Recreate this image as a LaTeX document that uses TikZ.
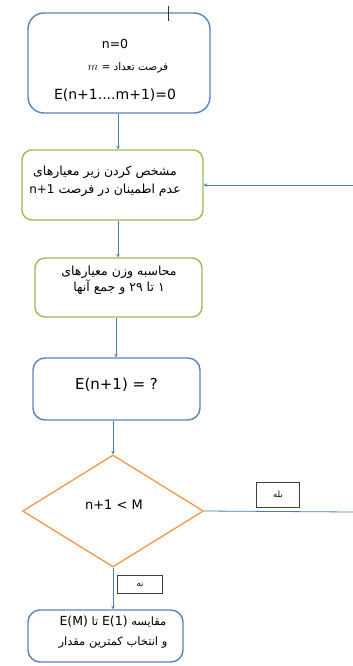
\documentclass[tikz,border=0pt]{standalone}
\usepackage{fontspec}
\setmainfont{DejaVu Sans}
\newfontfamily\fa[Script=Arabic]{DejaVu Sans}
\TeXXeTstate=1
\usetikzlibrary{shapes.geometric,arrows.meta}

\definecolor{bluebox}{HTML}{5A84BE}
\definecolor{greenbox}{HTML}{9BBB59}
\definecolor{orangebox}{HTML}{F79646}
\definecolor{linkblue}{HTML}{4A7EBB}

\tikzset{
  procblue/.style={draw=bluebox, line width=1.4pt, rounded corners=16pt, fill=white},
  procgreen/.style={draw=greenbox, line width=1.4pt, rounded corners=10pt, fill=white},
  decision/.style={draw=orangebox, line width=1.3pt, diamond, fill=white, inner sep=0pt},
  tag/.style={draw=black!75, line width=0.7pt, fill=white, inner sep=0pt},
  txt/.style={inner sep=0pt, align=center},
  conn/.style={draw=linkblue, line width=0.8pt},
  arr/.style={conn, -{Stealth[length=3.5pt,width=3.5pt]}},
}
\newcommand{\fasize}[2]{\fa\fontsize{#1}{#2}\selectfont}
\newcommand{\lasize}[1]{\fontsize{#1}{#1}\selectfont}

\begin{document}
\begin{tikzpicture}[x=1pt,y=-1pt]
  \useasboundingbox (0,0) rectangle (353,666);

  % process boxes
  \node[procblue, minimum width=182pt, minimum height=100pt] (start) at (119,63) {};
  \node[procgreen, minimum width=181pt, minimum height=70pt] (sub) at (112.5,185) {};
  \node[procgreen, minimum width=167pt, minimum height=59pt] (weigh) at (118.5,287.5) {};
  \node[procblue, rounded corners=12pt, minimum width=167pt, minimum height=62pt] (calc) at (116.5,389) {};
  \node[decision, minimum width=181pt, minimum height=112pt] (test) at (113,511) {};
  \node[procblue, rounded corners=12pt, minimum width=155pt, minimum height=52pt] (pick) at (105.5,636) {};

  % texts inside the boxes
  \node[txt, font=\lasize{12.5}] (t1a) at (115,44) {n=0};
  \node[txt, font=\fasize{10.5}{12}] (t1b) at (128,68)
    {\beginR فرصت تعداد = {\lasize{12.5}$m$}\endR};
  \node[txt, font=\lasize{14}] (t1c) at (115,95) {E(n+1....m+1)=0};

  \node[txt, font=\fasize{12.5}{18}] (t2) at (105,181)
    {\beginR مشخص کردن زیر معیارهای\endR\\
     \beginR عدم اطمینان در فرصت \beginL{\lasize{12}n+1}\endL\endR};

  \node[txt, font=\fasize{12.5}{12.5}] (t3) at (119,280)
    {\beginR محاسبه وزن معیارهای\endR\\
     \beginR ۱ تا \beginL ۲۹\endL{} و جمع آنها\endR};

  \node[txt, font=\lasize{15}] (t4) at (116.5,385) {E(n+1) = ?};

  \node[txt, font=\lasize{13}] (t5) at (114,505) {n+1 < M};

  \node[txt, font=\fasize{11.5}{20}] (t6) at (113,632)
    {\beginR مقایسه \beginL{\lasize{12.5}E(1)}\endL{} تا \beginL{\lasize{12.5}E(M)}\endL\endR\\
     \beginR و انتخاب کمترین مقدار\endR};

  % free ends of connectors
  \coordinate (top1) at (168,6);
  \coordinate (top2) at (168,21);
  \coordinate (back) at (353,185);
  \coordinate (out) at (353,512);

  % connectors
  \draw[line width=0.9pt, black!80] (top1) -- (top2);
  \draw[arr] (start.south -| 118,0) -- (sub.north -| 118,0);
  \draw[arr] (back) -- (sub.east);
  \draw[arr] (sub.south -| 118,0) -- (weigh.north -| 118,0);
  \draw[arr] (weigh.south -| 116,0) -- (calc.north -| 116,0);
  \draw[arr] (calc.south -| 113,0) -- (test.north);
  \draw[conn] (test.east) -- (out);
  \draw[arr] (test.south) -- (test.south |- pick.north);

  % branch labels
  \node[tag, minimum width=43pt, minimum height=25pt, font=\fasize{8.5}{10}] (yes) at (278,495) {\beginR بله\endR};
  \node[tag, minimum width=45pt, minimum height=18pt, font=\fasize{8.5}{10}] (no) at (140,584) {\beginR نه\endR};
\end{tikzpicture}
\end{document}
